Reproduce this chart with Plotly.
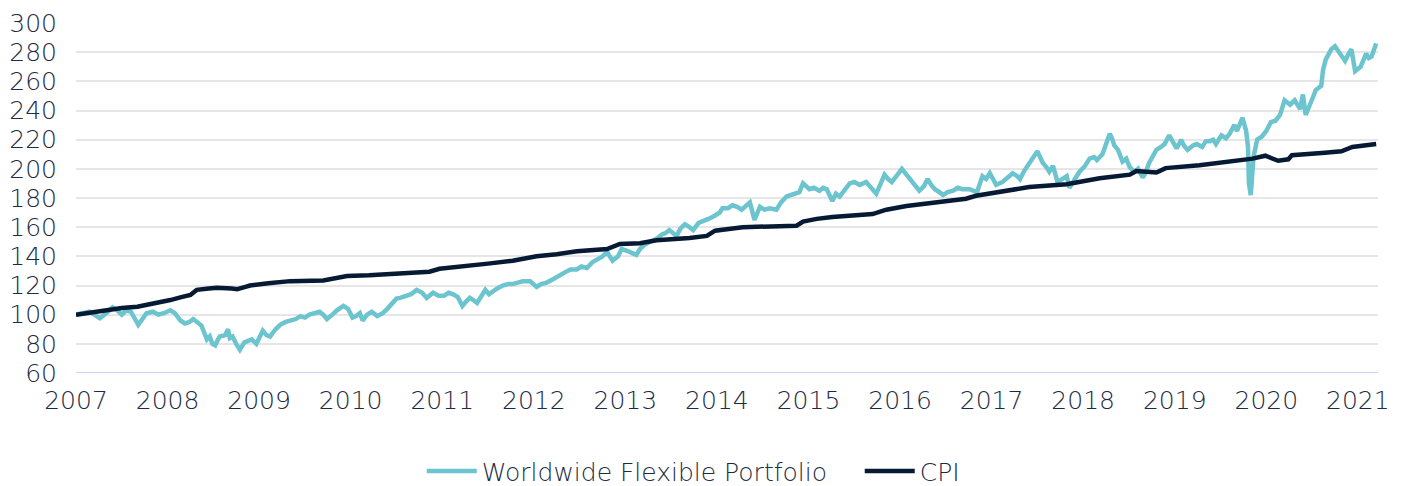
import plotly.graph_objects as go

# Worldwide Flexible Portfolio (fractional year, index value)
wfp_x = [
    2007.00, 2007.08, 2007.15, 2007.20, 2007.26, 2007.33, 2007.40, 2007.45, 2007.50, 2007.55,
    2007.60, 2007.68, 2007.72, 2007.77, 2007.84, 2007.90, 2007.96, 2008.03, 2008.08, 2008.14,
    2008.19, 2008.24, 2008.28, 2008.33, 2008.37, 2008.43, 2008.46, 2008.49, 2008.52, 2008.55,
    2008.57, 2008.63, 2008.66, 2008.68, 2008.71, 2008.75, 2008.79, 2008.84, 2008.88, 2008.92,
    2008.97, 2009.04, 2009.08, 2009.12, 2009.18, 2009.23, 2009.29, 2009.34, 2009.40, 2009.45,
    2009.50, 2009.55, 2009.60, 2009.66, 2009.70, 2009.74, 2009.80, 2009.85, 2009.92, 2009.97,
    2010.02, 2010.06, 2010.10, 2010.13, 2010.18, 2010.23, 2010.29, 2010.35, 2010.40, 2010.45,
    2010.50, 2010.54, 2010.60, 2010.66, 2010.72, 2010.78, 2010.83, 2010.90, 2010.96, 2011.02,
    2011.07, 2011.12, 2011.17, 2011.22, 2011.26, 2011.30, 2011.34, 2011.38, 2011.43, 2011.47,
    2011.51, 2011.55, 2011.60, 2011.66, 2011.72, 2011.77, 2011.81, 2011.88, 2011.96, 2012.03,
    2012.08, 2012.14, 2012.20, 2012.25, 2012.30, 2012.34, 2012.40, 2012.47, 2012.52, 2012.58,
    2012.64, 2012.69, 2012.75, 2012.80, 2012.86, 2012.92, 2012.96, 2013.01, 2013.05, 2013.12,
    2013.16, 2013.21, 2013.27, 2013.34, 2013.40, 2013.44, 2013.48, 2013.56, 2013.60, 2013.65,
    2013.70, 2013.74, 2013.80, 2013.85, 2013.92, 2013.98, 2014.03, 2014.06, 2014.12, 2014.17,
    2014.22, 2014.27, 2014.32, 2014.36, 2014.41, 2014.44, 2014.47, 2014.52, 2014.58, 2014.65,
    2014.70, 2014.76, 2014.82, 2014.87, 2014.90, 2014.94, 2015.01, 2015.06, 2015.12, 2015.16,
    2015.20, 2015.26, 2015.30, 2015.34, 2015.40, 2015.45, 2015.50, 2015.56, 2015.63, 2015.68,
    2015.74, 2015.79, 2015.83, 2015.87, 2015.91, 2015.96, 2016.02, 2016.07, 2016.14, 2016.21,
    2016.26, 2016.30, 2016.34, 2016.38, 2016.43, 2016.47, 2016.52, 2016.58, 2016.63, 2016.68,
    2016.76, 2016.84, 2016.90, 2016.94, 2016.98, 2017.05, 2017.12, 2017.18, 2017.23, 2017.28,
    2017.31, 2017.36, 2017.41, 2017.47, 2017.50, 2017.53, 2017.56, 2017.60, 2017.63, 2017.67,
    2017.72, 2017.77, 2017.82, 2017.85, 2017.90, 2017.96, 2018.02, 2018.07, 2018.12, 2018.15,
    2018.21, 2018.26, 2018.29, 2018.32, 2018.34, 2018.38, 2018.43, 2018.47, 2018.51, 2018.56,
    2018.60, 2018.65, 2018.68, 2018.72, 2018.76, 2018.80, 2018.85, 2018.89, 2018.94, 2018.98,
    2019.02, 2019.07, 2019.10, 2019.14, 2019.20, 2019.24, 2019.30, 2019.34, 2019.38, 2019.42,
    2019.45, 2019.51, 2019.56, 2019.60, 2019.65, 2019.68, 2019.74, 2019.78, 2019.80, 2019.81,
    2019.83, 2019.84, 2019.86, 2019.90, 2019.95, 2020.00, 2020.05, 2020.10, 2020.15, 2020.20,
    2020.26, 2020.31, 2020.37, 2020.40, 2020.43, 2020.49, 2020.54, 2020.60, 2020.62, 2020.65,
    2020.71, 2020.75, 2020.80, 2020.86, 2020.90, 2020.93, 2020.97, 2021.03, 2021.09, 2021.12,
    2021.15, 2021.20,
]
wfp_y = [
    100, 101, 102, 100, 97.5, 101, 105, 103, 100, 103,
    102, 93, 97, 101, 102, 100, 101, 103, 101, 96,
    94, 95, 97, 95, 92.5, 83, 85, 80, 79, 83,
    85, 86, 90, 84, 85, 80, 76, 81, 82, 83,
    80, 89, 86, 85, 90, 93, 95, 96, 97, 99,
    98, 100, 101, 102, 100, 97, 100, 103, 106, 104,
    98, 99, 101, 96, 100, 102, 99, 101, 104, 108,
    111, 111.5, 113, 114, 117, 115, 111.5, 115, 113, 113,
    115, 114, 112, 106, 109, 111.5, 110, 108, 113, 117,
    114, 116, 118, 120, 121, 121, 122, 123, 123, 119,
    121, 122, 124, 126, 128, 129, 131, 131, 133, 132,
    136, 138, 140, 143, 137, 140, 145, 144, 143, 141,
    145, 148, 150, 152, 155, 156, 158, 154, 159, 162,
    160, 158, 163, 164, 166, 168, 170, 173, 173, 175,
    174, 172, 175, 177, 165, 170, 174, 172, 173, 172,
    177, 181, 182, 183, 184, 190, 186, 187, 185, 187,
    186, 178, 183, 181, 186, 190, 191, 189, 191, 187,
    183, 190, 196, 193, 191, 195, 200, 196, 190, 185,
    188, 193, 189, 186, 184, 182, 184, 185, 187, 186,
    186, 184, 195, 193, 197, 189, 191, 194, 197, 195,
    193, 199, 204, 210, 212, 208, 204, 201, 198, 202,
    191, 193, 195, 187, 192, 198, 202, 207, 208, 206,
    210, 218, 224, 220, 216, 213, 205, 207, 201, 198,
    200, 194, 197, 204, 208, 213, 215, 217, 223, 219,
    214, 220, 216, 213, 216, 217, 215, 219, 219, 220,
    217, 223, 221, 224, 230, 226, 235, 226, 215, 190,
    182, 190, 208, 220, 222, 226, 232, 233, 237, 247,
    244, 247, 241, 251, 237, 246, 254, 257, 268, 275,
    282, 284, 279, 274, 279, 282, 267, 270, 279, 276,
    277, 286,
]

# CPI (fractional year, index value)
cpi_x = [
    2007.00, 2007.25, 2007.50, 2007.67, 2007.85, 2008.03, 2008.15, 2008.25, 2008.30, 2008.32,
    2008.45, 2008.54, 2008.70, 2008.76, 2008.85, 2008.90, 2009.10, 2009.34, 2009.70, 2009.85,
    2009.96, 2010.20, 2010.54, 2010.86, 2010.97, 2011.15, 2011.33, 2011.50, 2011.77, 2011.95,
    2012.03, 2012.25, 2012.47, 2012.80, 2012.94, 2013.16, 2013.34, 2013.70, 2013.89, 2013.98,
    2014.28, 2014.87, 2014.94, 2015.09, 2015.26, 2015.70, 2015.85, 2016.07, 2016.36, 2016.52,
    2016.72, 2016.83, 2017.01, 2017.41, 2017.82, 2018.00, 2018.18, 2018.51, 2018.58, 2018.80,
    2018.90, 2019.27, 2019.60, 2019.85, 2019.99, 2020.08, 2020.13, 2020.24, 2020.28, 2020.64,
    2020.82, 2020.94, 2021.20,
]
cpi_y = [
    100, 102.5, 104.5, 105.5, 107.5, 110, 112, 113.5, 116, 117,
    118, 118.5, 118, 117.5, 119, 120, 121.5, 123, 123.5, 125,
    126.5, 127, 128, 129.5, 131.5, 132.5, 134, 135, 137, 139,
    140, 141.5, 143.5, 145, 148.5, 149, 151, 152.5, 154, 157.6,
    160, 161, 163.8, 165.7, 167, 169, 172, 174.5, 176.5, 177.5,
    179.5, 181.5, 183.5, 187.5, 189.5, 191.5, 193.5, 196, 198.5, 197.5,
    200.5, 202.5, 205, 207, 209, 207, 205.5, 206.5, 209.3, 211,
    212, 215, 217,
]

year_ticks = list(range(2007, 2022))
y_ticks = list(range(60, 301, 20))

TEXT = "#1c2b45"
FONT = "DejaVu Sans, sans-serif"

fig = go.Figure()
fig.add_trace(go.Scatter(
    x=wfp_x, y=wfp_y, mode="lines", name="Worldwide Flexible Portfolio",
    line=dict(color="#6cc4cf", width=4.5),
))
fig.add_trace(go.Scatter(
    x=cpi_x, y=cpi_y, mode="lines", name="CPI",
    line=dict(color="#061a33", width=4.5),
))

# page body has an 8px margin, so the figure is sized/offset to compensate
fig.update_layout(
    width=1394, height=478,
    margin=dict(l=68, r=24, t=15, b=113, autoexpand=False),
    paper_bgcolor="white", plot_bgcolor="white",
    font=dict(family=FONT, size=24, color=TEXT, weight=300),
    showlegend=True,
    legend=dict(orientation="h", xref="container", yref="container",
                x=0.611, xanchor="center", y=0.031, yanchor="middle",
                font=dict(family=FONT, size=25, color=TEXT, weight=300), itemwidth=50,
                entrywidth=373, entrywidthmode="pixels",
                traceorder="normal"),
    xaxis=dict(range=[2007, 2021.22], tickmode="array", tickvals=year_ticks,
               ticktext=[str(v) for v in year_ticks], showgrid=False, zeroline=False,
               showline=False, ticks="", automargin=False, ticklabelstandoff=10,
               tickfont=dict(family=FONT, size=25, color=TEXT, weight=300)),
    yaxis=dict(range=[60, 300], tickmode="array", tickvals=y_ticks, showgrid=True,
               gridcolor="#e6e6e6", gridwidth=1.5, zeroline=False, ticks="",
               automargin=False, ticklabelstandoff=18,
               tickfont=dict(family=FONT, size=25, color=TEXT, weight=300)),
)
fig.add_hline(y=60, line=dict(color="#b4c8e8", width=1.5), layer="below")

fig.write_html("out.html")
